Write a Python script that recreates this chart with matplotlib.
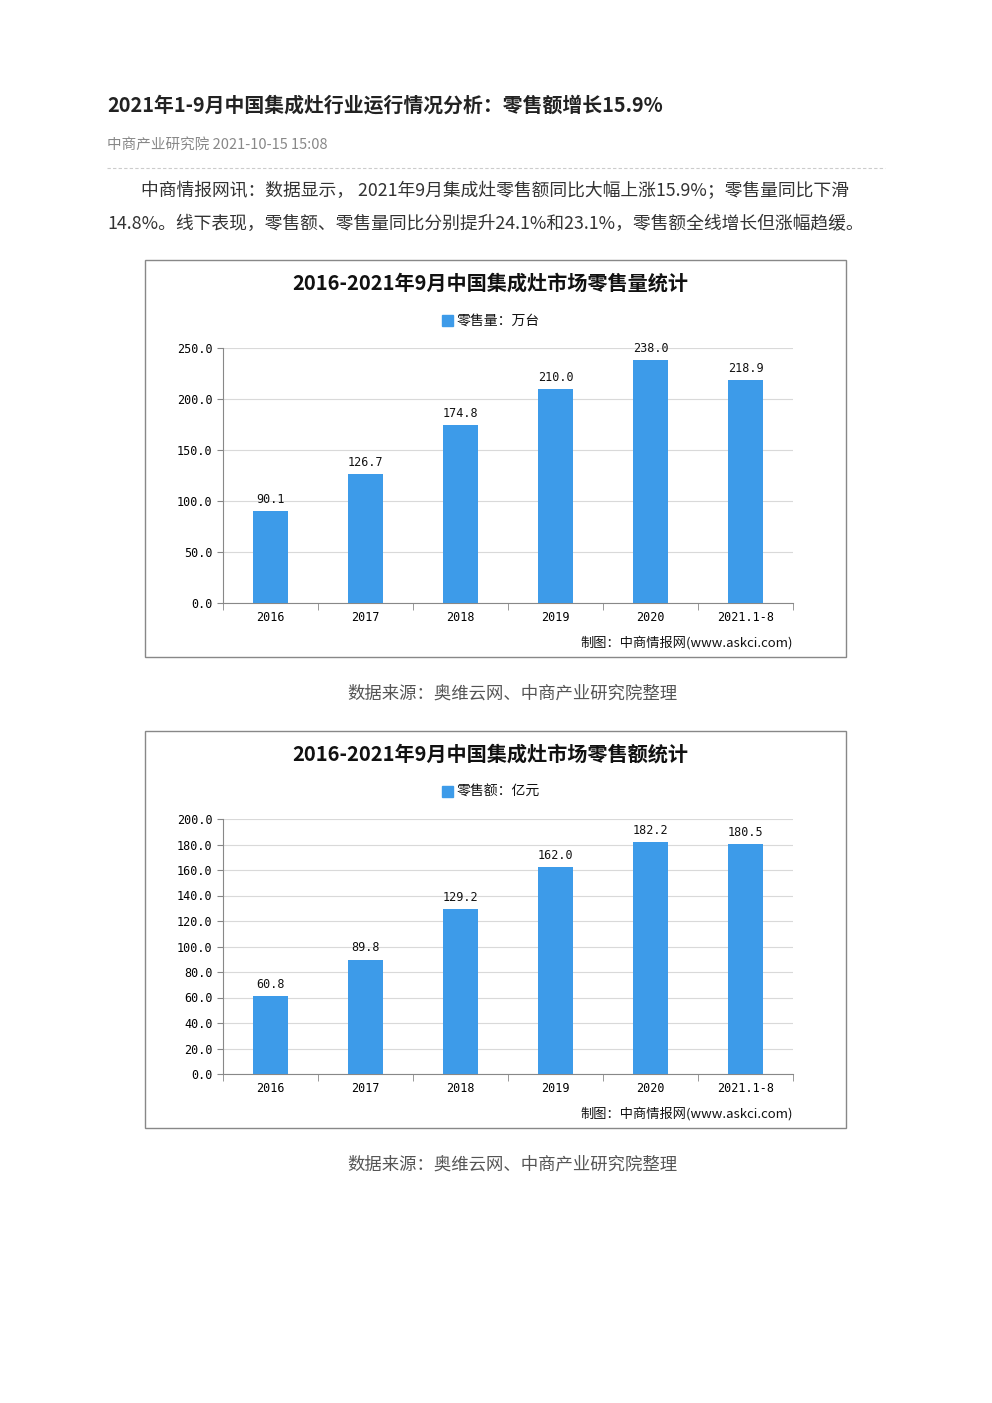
import matplotlib
matplotlib.use('Agg')
import matplotlib.pyplot as plt
from matplotlib.patches import Rectangle

plt.rcParams['font.family'] = ['Noto Sans CJK SC', 'DejaVu Sans']

W, H = 992, 1403

categories = ['2016', '2017', '2018', '2019', '2020', '2021.1-8']
volume = [90.1, 126.7, 174.8, 210.0, 238.0, 218.9]
revenue = [60.8, 89.8, 129.2, 162.0, 182.2, 180.5]

BAR = '#3d9be9'
TEXT = '#333333'

fig = plt.figure(figsize=(W / 100, H / 100), dpi=100)
fig.patch.set_facecolor('white')


def px(x, y):
    return x / W, 1 - y / H


def rect(x0, y0, x1, y1):
    return [x0 / W, 1 - y1 / H, (x1 - x0) / W, (y1 - y0) / H]


# page header
fig.text(*px(107, 105), '2021年1-9月中国集成灶行业运行情况分析：零售额增长15.9%',
         fontsize=14.3, fontweight='bold', color='#222222', va='center')
fig.text(*px(107, 145), '中商产业研究院 2021-10-15 15:08', fontsize=10.5,
         color='#888888', va='center')
fig.add_artist(plt.Line2D([107 / W, 885 / W], [1 - 168 / H] * 2,
                          color='#cccccc', linestyle=(0, (3, 2)), lw=0.8))
fig.text(*px(141, 191), '中商情报网讯：数据显示， 2021年9月集成灶零售额同比大幅上涨15.9%；零售量同比下滑',
         fontsize=12.8, color=TEXT, va='center')
fig.text(*px(107, 224), '14.8%。线下表现，零售额、零售量同比分别提升24.1%和23.1%，零售额全线增长但涨幅趋缓。',
         fontsize=12.8, color=TEXT, va='center')


def chart(top, title, legend, values, ymax, step):
    # frame
    fig.add_artist(Rectangle((145 / W, 1 - (top + 397) / H), 701 / W, 397 / H,
                             transform=fig.transFigure, fill=False,
                             edgecolor='#888888', lw=1))
    fig.text(*px(490, top + 23), title, fontsize=14.5, color='#111111',
             ha='center', va='center', fontweight='bold')
    fig.add_artist(Rectangle((442 / W, 1 - (top + 66) / H), 11 / W, 11 / H,
                             transform=fig.transFigure, color=BAR))
    fig.text(*px(457, top + 61), legend, fontsize=10, color='#111111', va='center')

    ax = fig.add_axes(rect(223, top + 88, 793, top + 343))
    x = range(len(categories))
    ax.bar(x, values, width=0.37, color=BAR, zorder=3)
    for i, v in zip(x, values):
        ax.text(i, v + ymax * 0.02, f'{v:.1f}', ha='center', va='bottom',
                fontsize=8.5, color='#111111', family='DejaVu Sans Mono')
    ax.set_xlim(-0.5, len(categories) - 0.5)
    ax.set_ylim(0, ymax)
    ax.set_yticks([i * step for i in range(int(ymax / step) + 1)])
    ax.set_yticklabels([f'{i * step:.1f}' for i in range(int(ymax / step) + 1)],
                       family='DejaVu Sans Mono', fontsize=8.5)
    ax.set_xticks(list(x))
    ax.set_xticklabels(categories, family='DejaVu Sans Mono', fontsize=8.5)
    ax.set_xticks([i - 0.5 for i in range(len(categories) + 1)], minor=True)
    ax.tick_params(axis='x', which='major', length=0, pad=6)
    ax.tick_params(axis='x', which='minor', length=5, color='#888888')
    ax.tick_params(axis='y', length=4, color='#888888')
    ax.grid(axis='y', color='#d9d9d9', lw=0.8, zorder=0)
    for s in ['top', 'right']:
        ax.spines[s].set_visible(False)
    ax.spines['left'].set_color('#888888')
    ax.spines['bottom'].set_color('#888888')
    fig.text(*px(793, top + 383), '制图：中商情报网(www.askci.com)', fontsize=9.5,
             color='#111111', ha='right', va='center')


chart(260, '2016-2021年9月中国集成灶市场零售量统计', '零售量：万台', volume, 250, 50)
fig.text(*px(512, 694), '数据来源：奥维云网、中商产业研究院整理', fontsize=12.5,
         color='#555555', ha='center', va='center')

chart(731, '2016-2021年9月中国集成灶市场零售额统计', '零售额：亿元', revenue, 200, 20)
fig.text(*px(512, 1165), '数据来源：奥维云网、中商产业研究院整理', fontsize=12.5,
         color='#555555', ha='center', va='center')

fig.savefig('out.png', dpi=100)
